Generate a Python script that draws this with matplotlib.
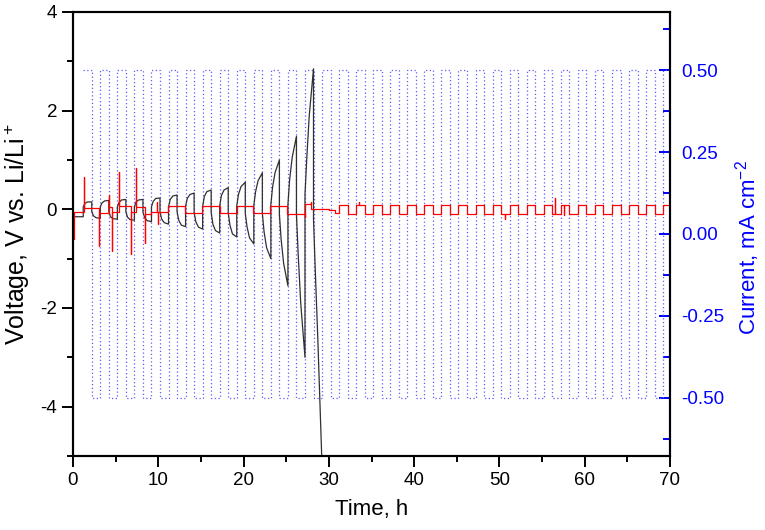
import numpy as np
import matplotlib.pyplot as plt

plt.rcParams['font.family'] = ['Liberation Sans', 'DejaVu Sans']
plt.rcParams['mathtext.fontset'] = 'custom'
plt.rcParams['mathtext.rm'] = 'Liberation Sans'
plt.rcParams['mathtext.default'] = 'regular'
plt.rcParams['axes.unicode_minus'] = False

# Current program: +/-0.5 mA cm-2, 1 h per half-cycle
current_start = 1.2
current_half = 1.0
current_levels = [0.5, -0.5] * 34 + [0.5]
current_stop = 70.0

# Black cell: voltage read at fractions of each half-cycle
knot_frac = [0.0, 0.2, 0.5, 1.0]
black_pre_t = [0.0, 0.1, 1.2]
black_pre_v = [0.0, -0.15, -0.15]
black_knots = [
    [0.05, 0.12, 0.15, 0.15], [-0.05, -0.13, -0.17, -0.18],
    [0.05, 0.13, 0.17, 0.18], [-0.05, -0.15, -0.19, -0.20],
    [0.05, 0.14, 0.19, 0.20], [-0.05, -0.16, -0.21, -0.22],
    [0.05, 0.15, 0.19, 0.20], [-0.05, -0.17, -0.23, -0.25],
    [0.05, 0.16, 0.22, 0.23], [-0.05, -0.20, -0.27, -0.30],
    [0.05, 0.20, 0.27, 0.29], [-0.05, -0.22, -0.32, -0.35],
    [0.06, 0.22, 0.30, 0.33], [-0.06, -0.25, -0.36, -0.40],
    [0.06, 0.26, 0.36, 0.39], [-0.06, -0.30, -0.43, -0.48],
    [0.07, 0.28, 0.39, 0.44], [-0.07, -0.32, -0.50, -0.56],
    [0.07, 0.30, 0.46, 0.55], [-0.08, -0.35, -0.58, -0.70],
    [0.08, 0.35, 0.58, 0.74], [-0.08, -0.45, -0.78, -1.00],
    [0.10, 0.45, 0.75, 1.00], [-0.10, -0.60, -1.10, -1.55],
    [0.10, 0.60, 1.05, 1.48], [-0.10, -0.90, -1.90, -3.00],
    [0.30, 1.00, 1.90, 2.85], [-0.20, -1.20, -2.60, -5.20],
]

# Red cell: step segments (start time, level) and spike at segment start
red_edges = [0.0, 0.15, 1.3, 3.05, 4.2, 4.6, 5.4, 6.8, 7.4, 8.4, 9.2,
             11.1, 13.1, 15.1, 17.2, 19.2, 21.1, 23.1, 25.1, 27.2, 27.9,
             30.0, 30.7, 31.2]
red_levels = [-0.6, -0.05, 0.02, -0.08, 0.05, -0.05, 0.06, -0.06, 0.05,
              -0.1, -0.05, 0.06, -0.07, 0.06, -0.08, 0.07, -0.08, 0.06,
              -0.09, 0.1, 0.01, -0.02, -0.07]
red_spikes = [None, None, 0.65, -0.75, 0.3, -0.85, 0.75, -0.9, 0.83,
              -0.68, None, None, None, None, None, None, None, None,
              None, -0.15, 0.15, None, None]
red_right_up = 0.08
red_right_low = -0.1
extra_spikes_t = [9.9, 10.0, 33.5, 50.6, 56.5, 57.6]
extra_spikes_v = [0.15, -0.3, 0.15, -0.2, 0.22, -0.12]

# build black line
bt = list(black_pre_t)
bv = list(black_pre_v)
for i, kv in enumerate(black_knots):
    for f, v in zip(knot_frac, kv):
        bt.append(current_start + i * current_half + f * current_half)
        bv.append(v)

# build current line
ct, cv = [], []
for i, lv in enumerate(current_levels):
    t0 = current_start + i * current_half
    t1 = min(t0 + current_half, current_stop)
    ct += [t0, t1]
    cv += [lv, lv]

# build red line
rt, rv = [], []
for k, lv in enumerate(red_levels):
    t0 = red_edges[k]
    t1 = red_edges[k + 1]
    if red_spikes[k] is not None:
        rt.append(t0)
        rv.append(red_spikes[k])
    rt += [t0, t1]
    rv += [lv, lv]
t0 = red_edges[-1]
k = 0
while t0 < current_stop:
    t1 = min(t0 + current_half, current_stop)
    lv = red_right_up if k % 2 == 0 else red_right_low
    rt += [t0, t1]
    rv += [lv, lv]
    t0 = t1
    k += 1
rt = np.array(rt)
rv = np.array(rv)
for st, sv in zip(extra_spikes_t, extra_spikes_v):
    j = np.searchsorted(rt, st)
    rt = np.insert(rt, j, [st, st, st])
    rv = np.insert(rv, j, [rv[j - 1], sv, rv[j - 1]])

fig = plt.figure(figsize=(7.65, 5.3), dpi=100)
ax = fig.add_axes([73 / 765, 1 - 456 / 530, (670 - 73) / 765, (456 - 12) / 530])
ax2 = ax.twinx()
ax.set_zorder(ax2.get_zorder() + 1)
ax.patch.set_visible(False)

ax2.plot(ct, cv, color='#5c5cff', lw=0.9, linestyle=(0, (1, 2)))
ax.plot(bt, bv, color='#303030', lw=0.9)
ax.plot(rt, rv, color='red', lw=0.9)

ax.set_xlim(0, 70)
ax.set_ylim(-5, 4)
ax2.set_ylim(-0.678, 0.678)

ax.set_xticks(range(0, 71, 10))
ax.set_xticks(range(5, 70, 10), minor=True)
ax.set_yticks([-4, -2, 0, 2, 4])
ax.set_yticks([-5, -3, -1, 1, 3], minor=True)
ax.tick_params(which='major', direction='out', length=8, width=1.4, labelsize=13.5)
ax.tick_params(which='minor', direction='out', length=4, width=1.4)

ax2.set_yticks([-0.5, -0.25, 0, 0.25, 0.5])
ax2.set_yticklabels(['-0.50', '-0.25', '0.00', '0.25', '0.50'])
ax2.set_yticks([-0.625, -0.375, -0.125, 0.125, 0.375, 0.625], minor=True)
ax2.tick_params(which='major', direction='in', length=8, width=1.4, colors='blue',
                labelsize=13.5, pad=8)
ax2.tick_params(which='minor', direction='in', length=5, width=1.4, colors='blue')
for sp in ax.spines.values():
    sp.set_linewidth(1.5)
for sp in ax2.spines.values():
    sp.set_linewidth(1.5)
ax2.spines['right'].set_color('blue')

ax.set_xlabel('Time, h', fontsize=16, labelpad=7)
ax.set_ylabel('Voltage, V vs. Li/Li$^+$', fontsize=18)
ax.yaxis.set_label_coords(-0.068, 0.5)
ax2.set_ylabel('Current, mA cm$^{-2}$', fontsize=16, color='blue')
ax2.yaxis.set_label_coords(1.105, 0.47)

fig.savefig('out.png', dpi=100)
